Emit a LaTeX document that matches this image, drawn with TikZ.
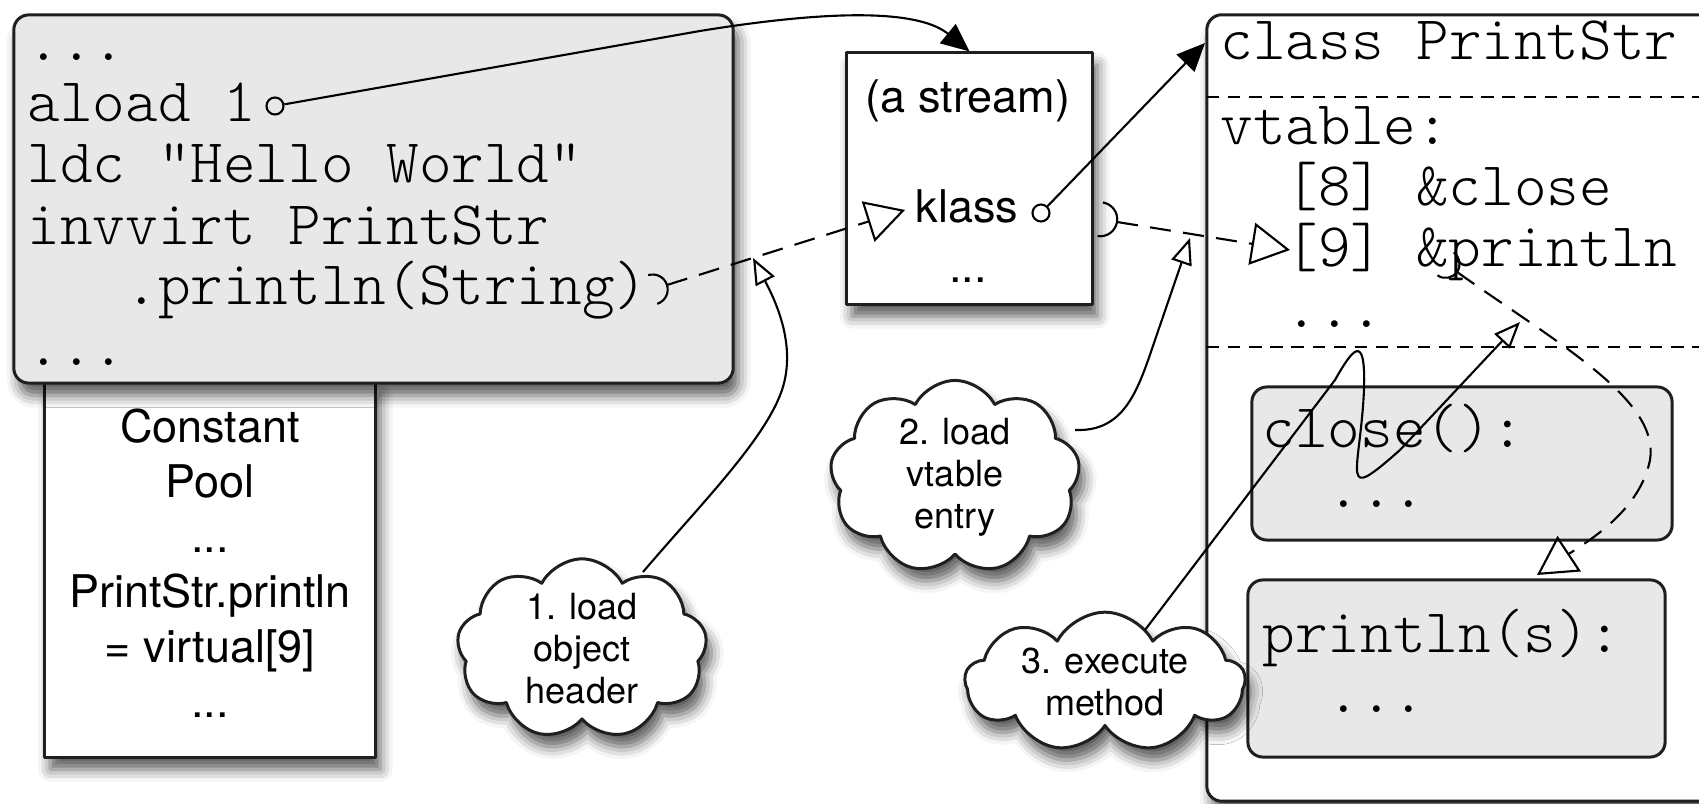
\documentclass[tikz,border=0pt]{standalone}
\usepackage{fontspec}
\newfontfamily\helv{TeX Gyre Heros}
\newfontfamily\codefont{lmmonolt10-regular.otf}
\usetikzlibrary{arrows.meta,shapes.symbols,calc,shadows.blur}

% half-circle tail at the start of a connector: #1 start, #2 point it heads to, #3 radius
\newcommand\arctail[3]{%
  \draw[conn] let \p1=($(#2)-(#1)$), \n1={atan2(\y1,\x1)} in
    ($(#1)!-#3!(#2)$) ++({\n1+90}:#3) arc[start angle={\n1+90}, end angle={\n1-90}, radius=#3];}

\tikzset{
  conn/.style={line width=0.6pt, black},
  dashline/.style={dash pattern=on 6pt off 3.5pt},
  sepline/.style={line width=0.6pt, dash pattern=on 3.5pt off 2.5pt},
  panel/.style={draw=black!88, line width=0.85pt, inner sep=0pt},
  softshadow/.style={blur shadow={shadow xshift=1.5pt, shadow yshift=-3.5pt, shadow blur radius=3.5pt, shadow opacity=65}},
  mono/.style={font=\codefont\fontsize{17.67}{17.67}\selectfont, inner sep=0pt, anchor=base west},
  sans/.style={font=\helv\fontsize{12.8}{15.6}\selectfont, inner sep=0pt, anchor=base},
  puff/.style={cloud, cloud puffs=9, cloud puff arc=125, cloud ignores aspect,
    draw=black!88, line width=0.85pt, fill=white, inner sep=0pt, align=center,
    font=\helv\fontsize{10.25}{11.95}\selectfont, softshadow},
  ring/.style={circle, draw, line width=0.6pt, minimum size=0.17cm, inner sep=0pt},
  bigopen/.tip={Triangle[open, length=11pt, width=12pt]},
  smallopen/.tip={Triangle[open, length=7.5pt, width=6pt]},
  solidhead/.tip={Triangle[length=8pt, width=7pt]},
}

\begin{document}
\begin{tikzpicture}[x=0.01cm, y=-0.01cm, line join=round]
\useasboundingbox (0,0) rectangle (1699,804);
\clip (0,0) rectangle (1699,804);

% ---- class PrintStr ----
\node[panel, fill=white, rounded corners=0.15cm, softshadow,
      minimum width=5.53cm, minimum height=7.86cm] (classbox) at (1483.5,408) {};
\draw[sepline] (1207,97) -- (1720,97);
\draw[sepline] (1207,347) -- (1720,347);
\node[panel, fill=black!9, rounded corners=0.15cm,
      minimum width=4.2cm, minimum height=1.53cm] (closebox) at (1462,463.5) {};
\node[panel, fill=black!9, rounded corners=0.15cm,
      minimum width=4.17cm, minimum height=1.77cm] (printbox) at (1456.5,668.5) {};

% ---- constant pool and bytecode ----
\node[panel, fill=white, softshadow, minimum width=3.3cm, minimum height=3.74cm] (pool) at (210,570) {};
\node[panel, fill=black!9, rounded corners=0.15cm, softshadow,
      minimum width=7.19cm, minimum height=3.68cm] (code) at (373.5,199) {};

% ---- the stream object ----
\node[panel, fill=white, softshadow, minimum width=2.45cm, minimum height=2.51cm] (stream) at (969.5,178.5) {};

% ---- step clouds ----
\node[puff, minimum width=2.5cm, minimum height=1.72cm] (cl1) at (582,649) {1. load\\object\\header};
\node[puff, minimum width=2.5cm, minimum height=1.93cm] (cl2) at (955,477) {2. load\\vtable\\entry};
\node[puff, minimum width=2.8cm, minimum height=1.2cm] (cl3) at (1105,682) {3. execute\\method};

% ---- bytecode text ----
\node[mono] (k1) at (27,61) {...};
\node[mono] (k2) at (27,122) {aload 1};
\node[mono] (k3) at (27,183) {ldc "Hello World"};
\node[mono] (k4) at (27,245) {invvirt PrintStr};
\node[mono] (k5) at (124.8,305) {.println(String)};
\node[mono] (k6) at (27,366) {...};

% ---- constant pool text ----
\node[sans] (p1) at (210,443) {Constant};
\node[sans] (p2) at (210,498) {Pool};
\node[sans] (p3) at (210,553) {...};
\node[sans] (p4) at (210,608) {PrintStr.println};
\node[sans] (p5) at (210,663) {= virtual[9]};
\node[sans] (p6) at (210,718) {...};

% ---- stream text ----
\node[sans] (s1) at (968,113) {(a stream)};
\node[sans, anchor=base west] (s2) at (915,223) {klass};
\node[sans] (s3) at (968,283) {...};

% ---- class text ----
\node[mono] (v0) at (1220,60) {class PrintStr};
\node[mono] (v1) at (1220,145) {vtable:};
\node[mono] (v2) at (1285,206) {[8] \&close};
\node[mono] (v3) at (1285,267) {[9] \&println};
\node[mono] (v4) at (1285,328) {...};
\node[mono] (m1) at (1262,448) {close():};
\node[mono] (m2) at (1327,508) {...};
\node[mono] (m3) at (1262,653) {println(s):};
\node[mono] (m4) at (1327,713) {...};

% ---- connector end points ----
\node[ring] (ca) at (275,106) {};
\node[ring] (kc) at (1041,213) {};
\coordinate (bend1) at (700,31);
\coordinate (classin) at (1205,43);
\coordinate (t1) at (667,285);
\coordinate (klassin) at (905,210);
\coordinate (t2) at (1117,222);
\coordinate (vt9) at (1290,250);
\coordinate (t3) at (1457,272);
\coordinate (h3) at (1560,345);
\coordinate (pin) at (1537,575);
\coordinate (c1top) at (643,572);
\coordinate (dl1) at (753,258);
\coordinate (c2r) at (1075,430);
\coordinate (dl2) at (1190,238);
\coordinate (c3top) at (1145,630);
\coordinate (exectip) at (1520,322);

% ---- solid pointers ----
\draw[conn, -{solidhead}] (ca) -- (bend1) .. controls (860,5) and (925,15) .. (stream.north);
\draw[conn, -{solidhead}] (kc) -- (classin);

% ---- dashed dispatch chain ----
\draw[conn, dashline, -{bigopen}] (t1) -- (klassin);
\arctail{t1}{klassin}{0.15cm}
\draw[conn, dashline, -{bigopen}] (t2) -- (vt9);
\arctail{t2}{vt9}{0.17cm}
\draw[conn, dashline, -{bigopen}] (t3) .. controls (h3) and (1660,400) .. (1650,460)
      .. controls (1640,510) and (1590,540) .. (pin);
\arctail{t3}{h3}{0.14cm}

% ---- step callouts ----
\draw[conn, -{smallopen}] (c1top) .. controls (700,505) and (765,440) .. (782,390)
      .. controls (797,345) and (775,300) .. (dl1);
\draw[conn, -{smallopen}] (c2r) .. controls (1125,432) and (1138,390) .. (1155,340) -- (dl2);
\draw[conn, -{smallopen}] (c3top) -- (1335,380) .. controls (1352,350) and (1366,330) .. (1364,390)
      .. controls (1360,475) and (1338,505) .. (1400,450) -- (exectip);
\end{tikzpicture}
\end{document}
